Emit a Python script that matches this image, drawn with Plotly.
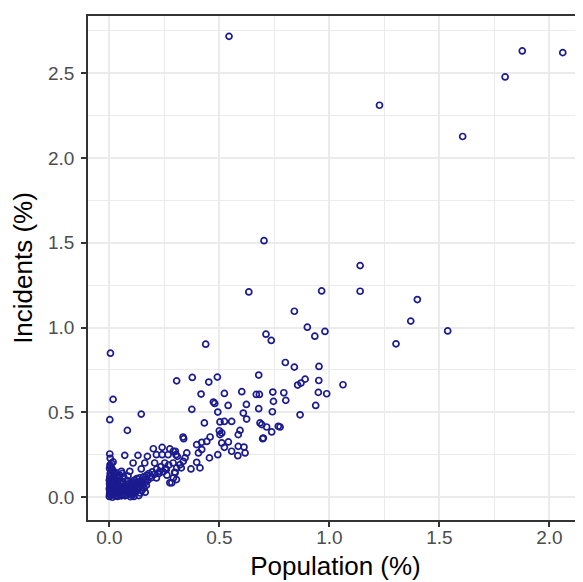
import plotly.graph_objects as go

# ---- data ----
high_pop = [0.544, 1.877, 2.061, 1.799, 1.228, 1.606, 0.703, 1.14, 0.634, 0.965,
            1.14, 1.40, 0.841, 1.37, 1.538, 0.98, 0.934, 0.90, 0.712, 0.736,
            1.303, 0.438, 0.005]
high_inc = [2.716, 2.63, 2.62, 2.477, 2.31, 2.126, 1.512, 1.365, 1.21, 1.216,
            1.214, 1.165, 1.096, 1.038, 0.98, 0.977, 0.949, 1.002, 0.961, 0.924,
            0.904, 0.902, 0.849]

mid_pop = [0.80, 0.841, 0.953, 0.679, 0.377, 0.491, 0.452, 0.306, 0.89, 0.952,
           0.871, 0.856, 1.062, 0.417, 0.523, 0.602, 0.668, 0.682, 0.743, 0.793,
           0.95, 0.988, 0.473, 0.479, 0.54, 0.623, 0.746, 0.802, 0.938, 0.375,
           0.493, 0.609, 0.679, 0.741, 0.867, 0.017, 0.145, 0.002, 0.624]
mid_inc = [0.794, 0.767, 0.771, 0.72, 0.706, 0.708, 0.679, 0.686, 0.696, 0.688,
           0.673, 0.661, 0.663, 0.608, 0.612, 0.622, 0.606, 0.606, 0.62, 0.616,
           0.618, 0.61, 0.561, 0.553, 0.541, 0.547, 0.565, 0.571, 0.541, 0.518,
           0.502, 0.496, 0.522, 0.504, 0.486, 0.577, 0.49, 0.457, 0.461]

low_pop = [0.082, 0.335, 0.338, 0.432, 0.503, 0.523, 0.556, 0.685, 0.693, 0.715,
           0.738, 0.768, 0.776, 0.70, 0.50, 0.511, 0.503, 0.594, 0.586, 0.697,
           0.458, 0.443, 0.42, 0.397, 0.511, 0.523, 0.541, 0.556, 0.586, 0.612,
           0.617, 0.584, 0.42, 0.405, 0.493, 0.455, 0.352, 0.344, 0.397, 0.002,
           0.07, 0.13, 0.173, 0.20, 0.24, 0.275, 0.30, 0.214, 0.24, 0.267,
           0.309, 0.017, 0.108, 0.161, 0.206, 0.252, 0.29, 0.291, 0.303]
low_inc = [0.394, 0.355, 0.345, 0.438, 0.444, 0.447, 0.447, 0.438, 0.428, 0.414,
           0.385, 0.418, 0.414, 0.349, 0.392, 0.379, 0.369, 0.394, 0.369, 0.345,
           0.355, 0.329, 0.324, 0.31, 0.32, 0.294, 0.326, 0.271, 0.30, 0.296,
           0.261, 0.245, 0.281, 0.261, 0.251, 0.232, 0.261, 0.232, 0.206, 0.255,
           0.247, 0.247, 0.241, 0.286, 0.294, 0.285, 0.271, 0.251, 0.251, 0.251,
           0.241, 0.208, 0.202, 0.202, 0.202, 0.202, 0.202, 0.271, 0.251]

cluster_pop = [
    0.000, 0.001, 0.002, 0.000, 0.003, 0.001, 0.000, 0.002, 0.004, 0.001,
    0.003, 0.006, 0.008, 0.005, 0.007, 0.009, 0.006, 0.010, 0.008, 0.012,
    0.014, 0.012, 0.016, 0.018, 0.015, 0.020, 0.017, 0.022, 0.019, 0.024,
    0.026, 0.023, 0.028, 0.030, 0.027, 0.033, 0.031, 0.035, 0.038, 0.036,
    0.040, 0.042, 0.039, 0.045, 0.048, 0.044, 0.050, 0.052, 0.049, 0.055,
    0.057, 0.060, 0.058, 0.063, 0.066, 0.062, 0.068, 0.070, 0.072, 0.075,
    0.078, 0.080, 0.083, 0.085, 0.082, 0.088, 0.090, 0.093, 0.095, 0.098,
    0.100, 0.103, 0.105, 0.108, 0.110, 0.113, 0.115, 0.118, 0.120, 0.123,
    0.125, 0.128, 0.132, 0.135, 0.138, 0.142, 0.145, 0.150, 0.155, 0.160,
    0.165, 0.170, 0.175, 0.180, 0.190, 0.195, 0.205, 0.215, 0.225, 0.235,
    0.245, 0.255, 0.262, 0.270, 0.035, 0.025, 0.015, 0.045, 0.065, 0.085,
    0.005, 0.010, 0.020, 0.004, 0.011, 0.029, 0.047, 0.059, 0.073, 0.104,
    0.055, 0.093, 0.145, 0.229, 0.259, 0.297, 0.327, 0.184, 0.214, 0.275,
    0.305, 0.134, 0.321, 0.306, 0.299, 0.291, 0.284, 0.371, 0.412, 0.336,
    0.148, 0.158, 0.163, 0.152, 0.168, 0.140, 0.130, 0.118, 0.112, 0.096]
cluster_inc = [
    0.005, 0.020, 0.035, 0.050, 0.065, 0.080, 0.100, 0.120, 0.140, 0.170,
    0.190, 0.010, 0.028, 0.045, 0.060, 0.075, 0.095, 0.110, 0.130, 0.155,
    0.000, 0.018, 0.040, 0.055, 0.070, 0.088, 0.105, 0.125, 0.015, 0.032,
    0.050, 0.068, 0.082, 0.008, 0.100, 0.025, 0.045, 0.062, 0.005, 0.080,
    0.030, 0.052, 0.095, 0.012, 0.040, 0.070, 0.022, 0.060, 0.088, 0.008,
    0.035, 0.050, 0.078, 0.018, 0.042, 0.092, 0.065, 0.010, 0.055, 0.030,
    0.075, 0.045, 0.015, 0.062, 0.098, 0.035, 0.080, 0.052, 0.020, 0.068,
    0.040, 0.085, 0.058, 0.025, 0.072, 0.100, 0.048, 0.065, 0.088, 0.055,
    0.110, 0.075, 0.090, 0.060, 0.115, 0.080, 0.098, 0.070, 0.120, 0.105,
    0.088, 0.130, 0.100, 0.140, 0.115, 0.150, 0.135, 0.165, 0.140, 0.180,
    0.150, 0.170, 0.130, 0.190, 0.115, 0.135, 0.160, 0.110, 0.120, 0.125,
    0.180, 0.200, 0.150, 0.230, 0.170, 0.145, 0.130, 0.140, 0.010, 0.012,
    0.153, 0.153, 0.167, 0.153, 0.163, 0.147, 0.173, 0.124, 0.114, 0.085,
    0.104, 0.010, 0.192, 0.173, 0.144, 0.114, 0.085, 0.167, 0.173, 0.212,
    0.040, 0.055, 0.030, 0.090, 0.070, 0.025, 0.045, 0.030, 0.005, 0.003]

x_ticks = [0.0, 0.5, 1.0, 1.5, 2.0]
y_ticks = [0.0, 0.5, 1.0, 1.5, 2.0, 2.5]
x_title = "Population (%)"
y_title = "Incidents (%)"

population = high_pop + mid_pop + low_pop + cluster_pop
incidents = high_inc + mid_inc + low_inc + cluster_inc

FONT = "Liberation Sans, Arial, sans-serif"
GRID = "#EBEBEB"
INK = "#1b1b8f"

fig = go.Figure(go.Scatter(
    x=population, y=incidents, mode="markers",
    marker=dict(symbol="circle-open", size=6, color=INK,
                line=dict(width=1.7, color=INK)),
    hoverinfo="x+y", showlegend=False,
))

# page body has an 8px margin, so the figure is 8px smaller than the window
fig.update_layout(
    width=575, height=574,
    margin=dict(l=80, r=0, t=8, b=62, autoexpand=False),
    paper_bgcolor="white", plot_bgcolor="white",
    font=dict(family=FONT, color="#4D4D4D"),
)
axis_common = dict(
    showgrid=True, gridcolor=GRID, gridwidth=1.8,
    zeroline=False,
    showline=True, linecolor="#333333", linewidth=1.5,
    ticks="outside", ticklen=5, tickcolor="#333333", tickwidth=1.5,
    tickfont=dict(size=19, color="#4D4D4D"),
    automargin=False,
)
fig.update_xaxes(
    range=[-0.097, 2.153], tickvals=x_ticks,
    ticktext=[f"{v:.1f}" for v in x_ticks], mirror=True,
    minor=dict(dtick=0.25, tick0=0, showgrid=True, gridcolor=GRID, gridwidth=0.9),
    ticklabelstandoff=-6,
    title=dict(text=x_title, font=dict(size=26, color="black"), standoff=10),
    **axis_common,
)
fig.update_yaxes(
    range=[-0.134, 2.836], tickvals=y_ticks,
    ticktext=[f"{v:.1f}" for v in y_ticks], mirror=False,
    minor=dict(dtick=0.25, tick0=0, showgrid=True, gridcolor=GRID, gridwidth=0.9),
    ticklabelstandoff=3,
    title=dict(text=y_title, font=dict(size=26, color="black"), standoff=9),
    **axis_common,
)

fig.write_html("out.html")
